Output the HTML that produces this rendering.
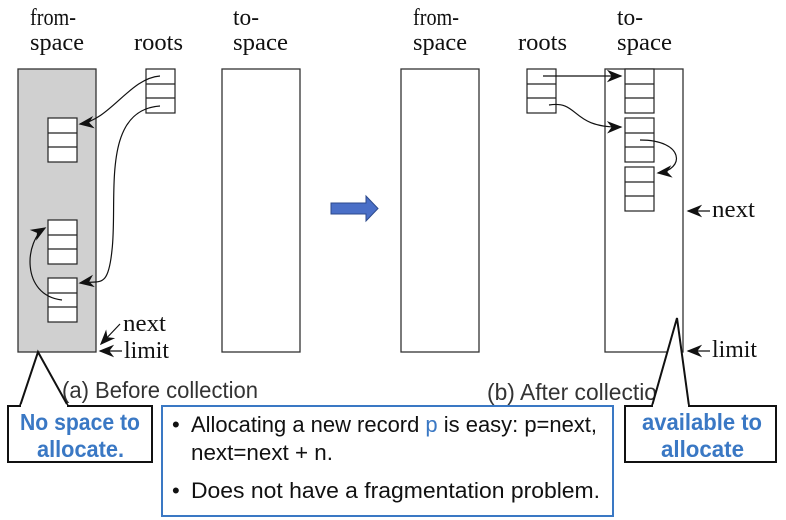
<!DOCTYPE html>
<html><head><meta charset="utf-8"><style>
html,body{margin:0;padding:0;background:#fff;}
svg{display:block;}
.s{font-family:"Liberation Serif",serif;font-size:24px;fill:#111;}
.c{font-family:"Liberation Sans",sans-serif;font-size:23px;fill:#333;}
.b{font-family:"Liberation Sans",sans-serif;font-size:23px;font-weight:bold;fill:#3a78c4;}
.t{font-family:"Liberation Sans",sans-serif;font-size:22px;fill:#111;}
</style></head><body>
<svg width="786" height="520" viewBox="0 0 786 520" xmlns="http://www.w3.org/2000/svg">
<defs>
<marker id="ah" viewBox="0 0 10 10" refX="9" refY="5" markerWidth="13" markerHeight="13" orient="auto-start-reverse">
<path d="M0,1 L10,5 L0,9 L3,5 z" fill="#111"/></marker>
</defs>
<text class="s" x="30" y="25" textLength="46" lengthAdjust="spacingAndGlyphs">from-</text>
<text class="s" x="30" y="50" textLength="54" lengthAdjust="spacingAndGlyphs">space</text>
<text class="s" x="134" y="50" textLength="49" lengthAdjust="spacingAndGlyphs">roots</text>
<text class="s" x="233" y="25" textLength="26" lengthAdjust="spacingAndGlyphs">to-</text>
<text class="s" x="233" y="50" textLength="55" lengthAdjust="spacingAndGlyphs">space</text>
<text class="s" x="413" y="25" textLength="46" lengthAdjust="spacingAndGlyphs">from-</text>
<text class="s" x="413" y="50" textLength="54" lengthAdjust="spacingAndGlyphs">space</text>
<text class="s" x="518" y="50" textLength="49" lengthAdjust="spacingAndGlyphs">roots</text>
<text class="s" x="617" y="25" textLength="26" lengthAdjust="spacingAndGlyphs">to-</text>
<text class="s" x="617" y="50" textLength="55" lengthAdjust="spacingAndGlyphs">space</text>
<g stroke="#333" stroke-width="1.3" fill="none">
<rect x="18" y="69" width="78" height="283" fill="#d0d0d0"/>
<rect x="222" y="69" width="78" height="283"/>
<rect x="401" y="69" width="78" height="283"/>
<rect x="605" y="69" width="78" height="283"/>
</g>
<g stroke="#222" stroke-width="1.2" fill="#fff">
<rect x="146" y="69" width="29" height="44"/><line x1="146" y1="84" x2="175" y2="84"/><line x1="146" y1="98" x2="175" y2="98"/>
<rect x="48" y="118" width="29" height="44"/><line x1="48" y1="133" x2="77" y2="133"/><line x1="48" y1="147" x2="77" y2="147"/>
<rect x="48" y="220" width="29" height="44"/><line x1="48" y1="235" x2="77" y2="235"/><line x1="48" y1="249" x2="77" y2="249"/>
<rect x="48" y="278" width="29" height="44"/><line x1="48" y1="293" x2="77" y2="293"/><line x1="48" y1="307" x2="77" y2="307"/>
<rect x="527" y="69" width="29" height="44"/><line x1="527" y1="84" x2="556" y2="84"/><line x1="527" y1="98" x2="556" y2="98"/>
<rect x="625" y="69" width="29" height="44"/><line x1="625" y1="84" x2="654" y2="84"/><line x1="625" y1="98" x2="654" y2="98"/>
<rect x="625" y="118" width="29" height="44"/><line x1="625" y1="133" x2="654" y2="133"/><line x1="625" y1="147" x2="654" y2="147"/>
<rect x="625" y="167" width="29" height="44"/><line x1="625" y1="182" x2="654" y2="182"/><line x1="625" y1="196" x2="654" y2="196"/>
</g>
<g stroke="#111" stroke-width="1.2" fill="none">
<path d="M160,76 C130,78 110,120 80,124" marker-end="url(#ah)"/>
<path d="M160,106 C100,110 118,200 112,250 C108,290 100,280 80,283" marker-end="url(#ah)"/>
<path d="M62,300 C20,295 25,240 45,228" marker-end="url(#ah)"/>
<path d="M543,76 L621,76" marker-end="url(#ah)"/>
<path d="M549,105 C580,100 570,128 621,127" marker-end="url(#ah)"/>
<path d="M640,140 C685,140 685,170 658,173" marker-end="url(#ah)"/>
<path d="M120,324 L101,344" marker-end="url(#ah)"/>
<path d="M122,351 L100,351" marker-end="url(#ah)"/>
<path d="M710,211 L688,211" marker-end="url(#ah)"/>
<path d="M710,351 L688,351" marker-end="url(#ah)"/>
</g>
<text class="s" x="123" y="331" textLength="43" lengthAdjust="spacingAndGlyphs">next</text>
<text class="s" x="124" y="358" textLength="45" lengthAdjust="spacingAndGlyphs">limit</text>
<text class="s" x="712" y="217" textLength="43" lengthAdjust="spacingAndGlyphs">next</text>
<text class="s" x="712" y="357" textLength="45" lengthAdjust="spacingAndGlyphs">limit</text>
<path d="M331,203 L366,203 L366,196 L378,208.5 L366,221 L366,214 L331,214 z" fill="#4a6fc7" stroke="#2c4a8c" stroke-width="1"/>
<text class="c" x="62" y="398" textLength="196" lengthAdjust="spacingAndGlyphs">(a) Before collection</text>
<text class="c" x="487" y="400" textLength="170" lengthAdjust="spacingAndGlyphs">(b) After collectio</text>
<path d="M20,406 L38,352 L68,406" fill="#fff" stroke="#111" stroke-width="2"/>
<rect x="8" y="406" width="144" height="56" fill="#fff" stroke="#111" stroke-width="2"/>
<line x1="21" y1="406" x2="67" y2="406" stroke="#fff" stroke-width="3"/>
<text class="b" x="20" y="430" textLength="120" lengthAdjust="spacingAndGlyphs">No space to</text>
<text class="b" x="37" y="457" textLength="87" lengthAdjust="spacingAndGlyphs">allocate.</text>
<path d="M652,406 L677,318 L689,406" fill="#fff" stroke="#111" stroke-width="2"/>
<rect x="625" y="406" width="151" height="56" fill="#fff" stroke="#111" stroke-width="2"/>
<line x1="653" y1="406" x2="688" y2="406" stroke="#fff" stroke-width="3"/>
<text class="b" x="642" y="430" textLength="120" lengthAdjust="spacingAndGlyphs">available to</text>
<text class="b" x="661" y="457" textLength="83" lengthAdjust="spacingAndGlyphs">allocate</text>
<rect x="162" y="406" width="451" height="110" fill="#fff" stroke="#3a78c4" stroke-width="2"/>
<text class="t" x="172" y="432">•</text>
<text class="t" x="191" y="432" textLength="406" lengthAdjust="spacingAndGlyphs">Allocating a new record <tspan fill="#3a78c4">p</tspan> is easy: p=next,</text>
<text class="t" x="191" y="460" textLength="142" lengthAdjust="spacingAndGlyphs">next=next + n.</text>
<text class="t" x="172" y="498">•</text>
<text class="t" x="191" y="498" textLength="409" lengthAdjust="spacingAndGlyphs">Does not have a fragmentation problem.</text>
</svg>
</body></html>
